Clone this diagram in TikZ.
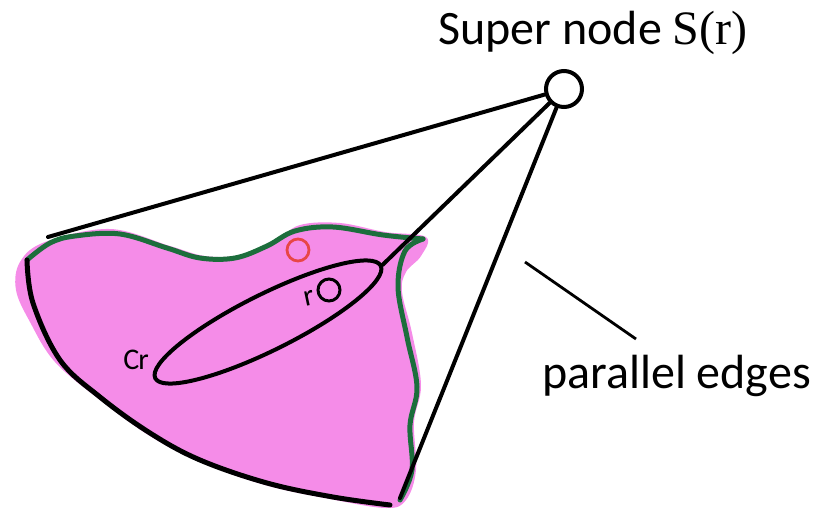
\documentclass[tikz,border=0pt]{standalone}
\usepackage{fontspec}
\setmainfont{Carlito}
\newfontfamily\mathlike{Liberation Serif}
\usetikzlibrary{shapes.geometric}
\definecolor{blobpink}{RGB}{245,140,232}
\definecolor{rimgreen}{RGB}{28,110,60}
\definecolor{redring}{RGB}{232,70,70}
\tikzset{
  edge/.style={line width=4pt, black, line cap=round},
  rim/.style={line width=5pt, rimgreen, line cap=round, line join=round},
  border/.style={line width=5pt, black, line cap=round, line join=round},
  lbl/.style={font=\fontsize{48}{56}\selectfont, inner sep=0pt},
  hand/.style={font=\fontsize{30}{34}\selectfont, inner sep=0pt},
  pointer/.style={line width=2.8pt, black},
}
\begin{document}
\begin{tikzpicture}[x=1pt,y=-1pt]
\useasboundingbox (0,0) rectangle (823,512);
% pink region
\fill[blobpink] plot[smooth cycle, tension=0.6] coordinates {
  (20,262) (45,242) (110,229) (170,246) (205,256) (240,255) (275,241)
  (300,225) (340,223) (385,232) (426,237) (421,256) (406,272) (402,292)
  (412,333) (421,385) (414,422) (416,470) (406,500) (386,508) (330,499)
  (265,485) (200,462) (150,436) (100,400) (55,362) (30,322) (16,290)};
% green rim
\draw[rim] plot[smooth, tension=0.6] coordinates {
  (27,260) (50,243) (75,236) (120,234) (167,248) (200,258) (235,258)
  (267,246) (295,231) (333,227) (383,235) (423,239)};
\draw[rim] plot[smooth, tension=0.6] coordinates {
  (423,239) (405,251) (398,287) (407,337) (417,387) (410,425) (412,470) (400,500)};
% black lower border
\draw[border] plot[smooth, tension=0.6] coordinates {
  (27,260) (33,303) (60,360) (100,397) (150,433) (200,460) (267,483)
  (333,497) (390,505)};
% nodes
\node[circle, draw, line width=4pt, minimum size=36pt, inner sep=0pt] (S) at (564,89) {};
\node[ellipse, draw, line width=4pt, minimum width=252pt, minimum height=56pt,
      inner sep=0pt, rotate=26.5] (C) at (268,322) {};
\node[circle, draw, line width=3pt, minimum size=22pt, inner sep=0pt] (r) at (329,290) {};
\node[circle, draw=redring, line width=2.8pt, minimum size=22pt, inner sep=0pt] (red) at (298,250) {};
\node[hand, rotate=12] (rlbl) at (309,298) {r};
\node[hand] (clbl) at (136,360) {C\kern-1pt r};
\node[lbl, anchor=base] (title) at (593,44) {Super node {\mathlike S(r)}};
\node[lbl, anchor=base west] (pe) at (542,388) {parallel edges};
% connectors
\coordinate (tl) at (48,237);
\coordinate (bt) at (400,498);
\coordinate (p1) at (525,262);
\coordinate (p2) at (636,339);
\draw[edge] (S) -- (tl);
\draw[edge] (S) -- (C.east);
\draw[edge] (S) -- (bt);
\draw[pointer] (p1) -- (p2);
\end{tikzpicture}
\end{document}
